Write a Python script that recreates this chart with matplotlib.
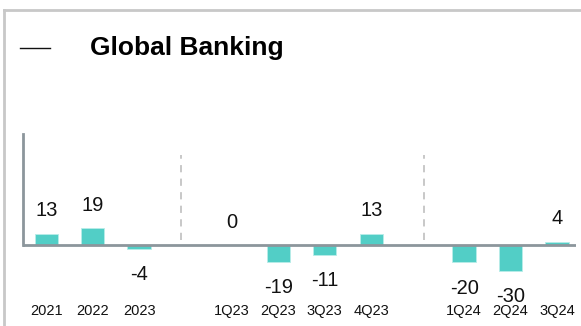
import matplotlib
matplotlib.use("Agg")
import matplotlib.pyplot as plt
from matplotlib.lines import Line2D

plt.rcParams["font.family"] = ["Liberation Sans", "DejaVu Sans"]

# periods and values (empty slots separate annual / 2023 / 2024 blocks)
labels = ["2021", "2022", "2023", "1Q23", "2Q23", "3Q23", "4Q23", "1Q24", "2Q24", "3Q24"]
values = [13, 19, -4, 0, -19, -11, 13, -20, -30, 4]
slots = [0, 1, 2, 4, 5, 6, 7, 9, 10, 11]
dividers = [2.9, 8.13]

bar_color = "#52cec6"
axis_color = "#8c969c"

fig = plt.figure(figsize=(5.81, 3.26), dpi=100)
ax = fig.add_axes([0.0396, 0.0798, 0.9518, 0.509])

ax.bar(slots, values, width=0.5, color=bar_color, edgecolor="#b8ece8", linewidth=0.6, zorder=2)
ax.axhline(0, color=axis_color, linewidth=2, zorder=3)

for x in dividers:
    ax.vlines(x, 6, 103, colors="#c4c4c4", linestyles=(0, (4, 3.5)), linewidth=1.3)

for x, v in zip(slots, values):
    off = 16.5 if v >= 0 else -18.5
    ax.annotate(str(v), (x, v), xytext=(0, off), textcoords="offset points",
                ha="center", va="center", fontsize=14.5, color="#111111")

ax.set_xlim(-0.5, 11.41)
ax.set_ylim(-63.2, 127.6)
ax.set_xticks(slots)
ax.set_xticklabels(labels, fontsize=10.5, color="#111111")
ax.tick_params(axis="x", length=0, pad=3)
ax.set_yticks([])
for side in ["top", "right", "bottom"]:
    ax.spines[side].set_visible(False)
ax.spines["left"].set_color(axis_color)
ax.spines["left"].set_linewidth(2)
ax.spines["left"].set_bounds(0, 127.6)

# panel frame and header
fig.add_artist(Line2D([4 / 581, 1], [1 - 10 / 326, 1 - 10 / 326], color="#c8c8c8", linewidth=2))
fig.add_artist(Line2D([4 / 581, 4 / 581], [0, 1 - 10 / 326], color="#c8c8c8", linewidth=2))
fig.add_artist(Line2D([20 / 581, 50 / 581], [1 - 48 / 326, 1 - 48 / 326], color="#111111", linewidth=1))
fig.text(90 / 581, 1 - 55 / 326, "Global Banking", fontsize=19, fontweight="bold",
         ha="left", va="baseline", color="#000000")

fig.savefig("out.png", dpi=100)
